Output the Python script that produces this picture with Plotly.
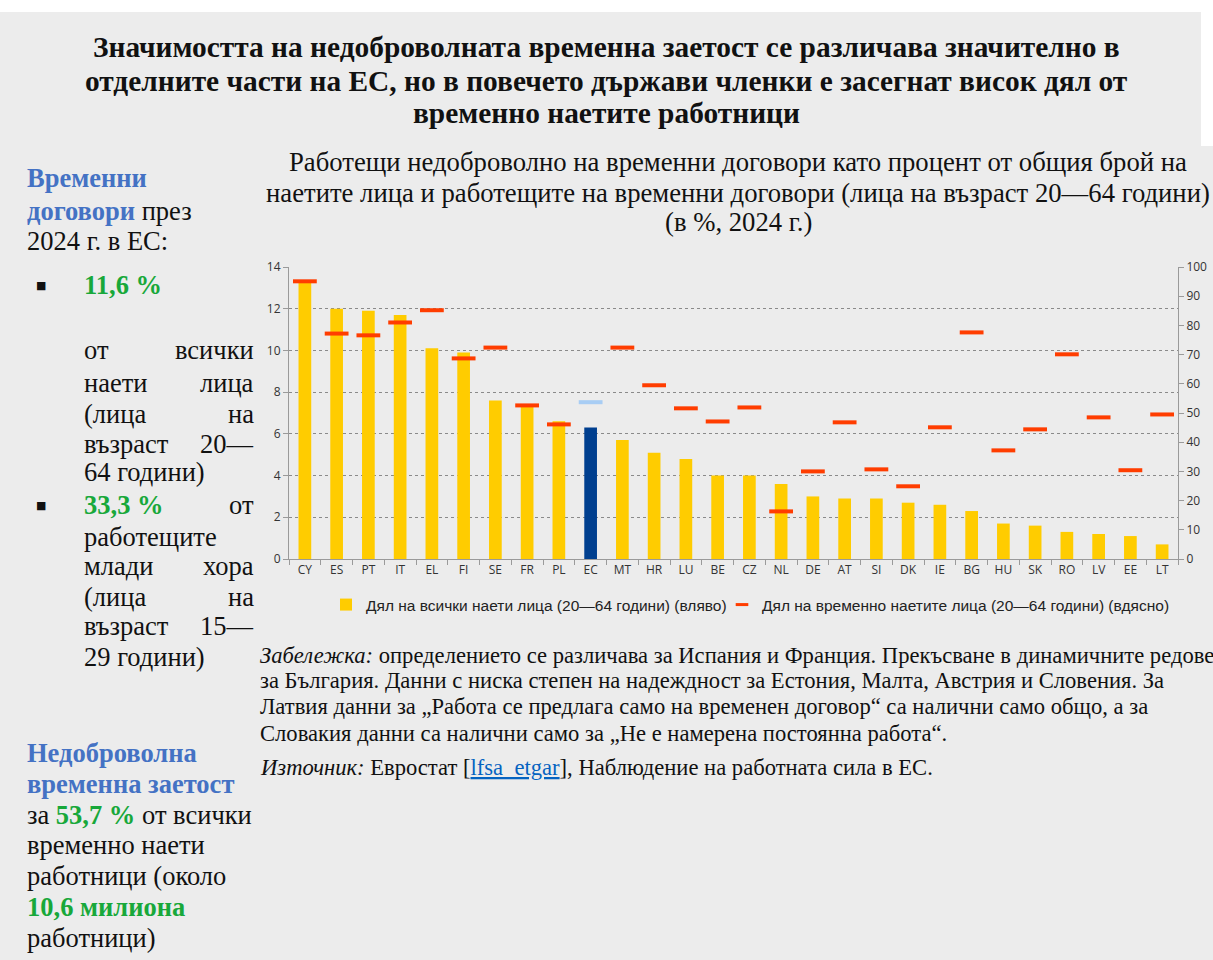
import plotly.graph_objects as go

countries = ["CY","ES","PT","IT","EL","FI","SE","FR","PL","EC","MT","HR","LU","BE","CZ",
             "NL","DE","AT","SI","DK","IE","BG","HU","SK","RO","LV","EE","LT"]
share_all = [13.3,12.0,11.9,11.7,10.1,9.9,7.6,7.3,6.6,6.3,5.7,5.1,4.8,4.0,4.0,
             3.6,3.0,2.9,2.9,2.7,2.6,2.3,1.7,1.6,1.3,1.2,1.1,0.7]
share_temp = [95.1,77.2,76.6,81.0,85.2,68.7,72.4,52.6,46.1,53.7,72.4,59.5,51.6,47.1,51.9,
              16.3,30.0,46.8,30.7,24.9,45.1,77.6,37.2,44.4,70.1,48.5,30.4,49.5]
left_ticks = [0,2,4,6,8,10,12,14]
right_ticks = [0,10,20,30,40,50,60,70,80,90,100]

W, H = 1213, 960
L, R, T, B = 289, 35, 267, 401
PW, PH = W - L - R, H - T - B

def px(x):
    return (x - L) / PW

def py(y):
    return (H - B - y) / PH

YEL = "#ffcc00"
RED = "#ff3d00"
EU_BAR = "#003f8f"
EU_MK = "#a8cdf4"
BLUE = "#4472c4"
GREEN = "#18a83a"
BG = "#ececec"

bar_colors = [EU_BAR if c == "EC" else YEL for c in countries]
mk_colors = [EU_MK if c == "EC" else RED for c in countries]

fig = go.Figure()
fig.add_trace(go.Bar(
    x=countries, y=share_all, marker=dict(color=bar_colors, line=dict(width=0)),
    width=0.4, name="Дял на всички наети лица (20—64 години) (вляво)", yaxis="y",
    legend="legend",
))
fig.add_trace(go.Scatter(
    x=countries, y=share_temp, mode="markers", yaxis="y2", showlegend=False,
    marker=dict(symbol="line-ew", size=17, color=mk_colors,
                line=dict(width=4, color=mk_colors)),
    name="Дял на временно наетите лица (20—64 години) (вдясно)",
))
# legend entry (small dash like the original legend key)
fig.add_trace(go.Scatter(
    x=[None], y=[None], mode="markers", yaxis="y2", legend="legend2",
    marker=dict(symbol="line-ew", size=9, color=RED, line=dict(width=3, color=RED)),
    name="Дял на временно наетите лица (20—64 години) (вдясно)",
))

tickfont = dict(family="Open Sans, Liberation Sans, sans-serif", size=12, color="#333333")
legfont = dict(family="Liberation Sans, Arial, sans-serif", size=15.5, color="#222222")
fig.update_layout(
    width=W, height=H,
    margin=dict(l=L, r=R, t=T, b=B, autoexpand=False),
    paper_bgcolor=BG, plot_bgcolor=BG,
    bargap=0.6,
    showlegend=True,
    legend=dict(orientation="h", x=px(326), xanchor="left", y=py(605), yanchor="middle",
                font=legfont, bgcolor="rgba(0,0,0,0)", itemwidth=30),
    legend2=dict(orientation="h", x=px(722), xanchor="left", y=py(605), yanchor="middle",
                 font=legfont, bgcolor="rgba(0,0,0,0)", itemwidth=30),
    xaxis=dict(type="category", tickfont=tickfont, showline=True, linecolor="#9a9a9a",
               ticks="outside", tickson="boundaries", ticklen=5, tickcolor="#9a9a9a",
               showgrid=False, range=[-0.5, len(countries) - 0.5]),
    yaxis=dict(range=[0, 14], tickvals=left_ticks, tickfont=tickfont, showline=True,
               linecolor="#9a9a9a", ticks="outside", ticklen=5, tickcolor="#9a9a9a",
               showgrid=True, gridcolor="#8a8a8a", griddash="dot", gridwidth=1,
               zeroline=False),
    yaxis2=dict(range=[0, 100], tickvals=right_ticks, tickfont=tickfont, overlaying="y",
                side="right", showline=True, linecolor="#9a9a9a", ticks="outside",
                ticklen=5, tickcolor="#9a9a9a", showgrid=False, zeroline=False),
)

shapes = [
    dict(type="rect", xref="paper", yref="paper", x0=px(0), x1=px(W), y0=py(0), y1=py(12),
         fillcolor="white", line=dict(width=0), layer="below"),
    dict(type="rect", xref="paper", yref="paper", x0=px(1201), x1=px(W), y0=py(12), y1=py(146),
         fillcolor="white", line=dict(width=0), layer="below"),
]
fig.update_layout(shapes=shapes)

SERIF = "Liberation Serif, DejaVu Serif, serif"
ann = []

def text(x, y, s, size=26.5, anchor="left", color="#111111", family=SERIF):
    ann.append(dict(xref="paper", yref="paper", x=px(x), y=py(y), text=s, showarrow=False,
                    xanchor=anchor, yanchor="middle", align=anchor if anchor != "center" else "center",
                    font=dict(family=family, size=size, color=color)))

# Main title
title_lines = [
    "Значимостта на недоброволната временна заетост се различава значително в",
    "отделните части на ЕС, но в повечето държави членки е засегнат висок дял от",
    "временно наетите работници",
]
for yy, s in zip([47, 81, 113], title_lines):
    text(606, yy, "<b>" + s + "</b>", size=29.4, anchor="center")

# Chart subtitle
sub_lines = [
    "Работещи недоброволно на временни договори като процент от общия брой на",
    "наетите лица и работещите на временни договори (лица на възраст 20—64 години)",
    "(в %, 2024 г.)",
]
for yy, s in zip([162, 193, 222], sub_lines):
    text(738, yy, s, size=26.7, anchor="center")

# Left panel
def b(s, c):
    return "<b><span style='color:%s'>%s</span></b>" % (c, s)

text(25, 178, b("Временни", BLUE))
text(25, 211, b("договори", BLUE) + " през")
text(25, 241, "2024 г. в ЕС:")
text(34, 285, "■", size=11, family="DejaVu Sans, sans-serif")
text(82, 285, b("11,6 %", GREEN))
pairs1 = [(350, "от", "всички"), (383, "наети", "лица"), (414, "(лица", "на"),
          (444, "възраст", "20—")]
for yy, a, c in pairs1:
    text(82, yy, a)
    text(256, yy, c, anchor="right")
text(82, 472, "64 години)")
text(34, 505, "■", size=11, family="DejaVu Sans, sans-serif")
text(82, 505, b("33,3 %", GREEN))
text(256, 505, "от", anchor="right")
text(82, 537, "работещите")
pairs2 = [(566, "млади", "хора"), (597, "(лица", "на"), (626, "възраст", "15—")]
for yy, a, c in pairs2:
    text(82, yy, a)
    text(256, yy, c, anchor="right")
text(82, 657, "29 години)")

text(25, 753, b("Недоброволна", BLUE))
text(25, 784, b("временна заетост", BLUE))
text(25, 815, "за " + b("53,7 %", GREEN) + " от всички")
text(25, 845, "временно наети")
text(25, 876, "работници (около")
text(25, 907, b("10,6 милиона", GREEN))
text(25, 938, "работници)")

# Notes
note_lines = [
    "<i>Забележка:</i> определението се различава за Испания и Франция. Прекъсване в динамичните редове",
    "за България. Данни с ниска степен на надеждност за Естония, Малта, Австрия и Словения. За",
    "Латвия данни за „Работа се предлага само на временен договор“ са налични само общо, а за",
    "Словакия данни са налични само за „Не е намерена постоянна работа“.",
]
for yy, s in zip([655, 680, 706, 733], note_lines):
    text(258, yy, s, size=22.6)
text(258, 767, "<i>Източник:</i> Евростат [<span style='color:#0563c1;text-decoration:underline'>lfsa_etgar</span>], Наблюдение на работната сила в ЕС.", size=22.6)

fig.update_layout(annotations=ann)
fig.write_html("out.html", config={"displayModeBar": False},
               post_script="document.body.style.margin='0';document.body.style.overflow='hidden';")
